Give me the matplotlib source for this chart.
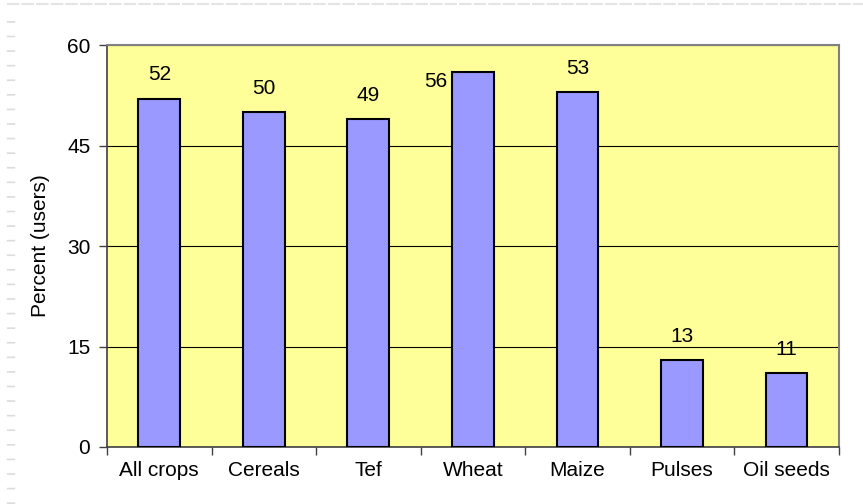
import matplotlib.pyplot as plt
from matplotlib.lines import Line2D

categories = ["All crops", "Cereals", "Tef", "Wheat", "Maize", "Pulses", "Oil seeds"]
percent_users = [52, 50, 49, 56, 53, 13, 11]
y_ticks = [0, 15, 30, 45, 60]

plt.rcParams['font.family'] = ['Liberation Sans', 'DejaVu Sans']

fig = plt.figure(figsize=(8.63, 5.04), dpi=100)
ax = fig.add_axes([0.124, 0.1131, 0.848, 0.7976])
ax.set_facecolor('#FFFF99')

x = list(range(len(categories)))
bars = ax.bar(x, percent_users, width=0.4, color='#9999FF',
              edgecolor='black', linewidth=1.5, zorder=3)

# gridlines
ax.set_ylim(0, 60)
ax.set_yticks(y_ticks)
ax.yaxis.grid(True, color='black', linewidth=0.8, zorder=1)
ax.set_axisbelow(True)

ax.set_xlim(-0.5, len(categories) - 0.5)
ax.set_xticks([i - 0.5 for i in range(len(categories) + 1)])
ax.set_xticklabels([])
ax.set_xticks(x, minor=True)
ax.set_xticklabels(categories, minor=True)
ax.tick_params(axis='x', which='minor', length=0, pad=10, labelsize=15)
ax.tick_params(axis='x', which='major', length=6, width=1, color='#404040')
ax.tick_params(axis='y', length=6, width=1, color='#404040', labelsize=15, pad=6)

ax.set_ylabel('Percent (users)', fontsize=15, labelpad=12)

for side in ['top', 'right']:
    ax.spines[side].set_color('#808080')
    ax.spines[side].set_linewidth(1.5)
for side in ['left', 'bottom']:
    ax.spines[side].set_color('#404040')
    ax.spines[side].set_linewidth(1.2)

# value labels (Wheat label sits left of the bar top)
for i, v in enumerate(percent_users):
    if categories[i] == "Wheat":
        ax.annotate(str(v), (i - 0.2, v), xytext=(-3, -7), textcoords='offset points',
                    ha='right', va='center', fontsize=15)
    else:
        ax.annotate(str(v), (i, v), xytext=(0, 17), textcoords='offset points',
                    ha='center', va='center', fontsize=15)

# faint dashed border of the original page
fig.add_artist(Line2D([0.008, 1.0], [0.992, 0.992], transform=fig.transFigure,
                      color='#e4e4e4', linewidth=1.5, linestyle=(0, (6, 1))))
fig.add_artist(Line2D([0.0127, 0.0127], [0.0, 0.975], transform=fig.transFigure,
                      color='#dcdcdc', linewidth=6, linestyle=(0, (0.2, 1.55))))

fig.savefig('out.png', dpi=100)
